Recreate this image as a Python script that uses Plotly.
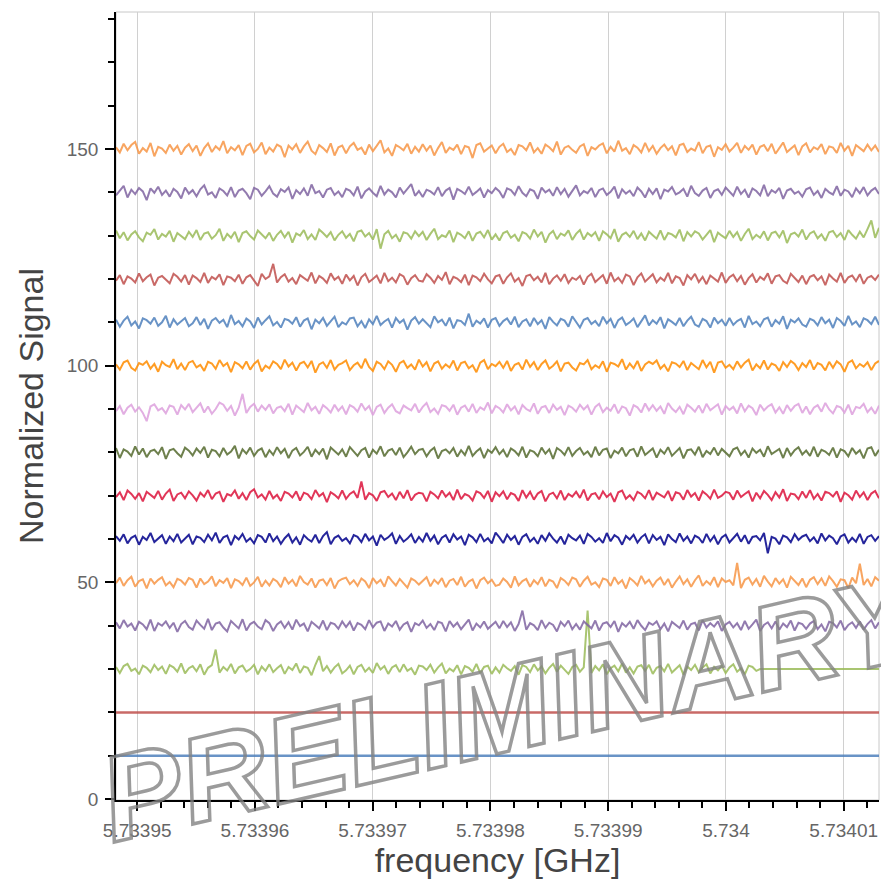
import numpy as np
import plotly.graph_objects as go

# ---------------- data ----------------
freq_start = 5.7339482   # GHz, first sample
freq_stop = 5.7340130    # GHz, last sample

offsets = [10, 20, 30, 40, 50, 60, 70, 80, 90, 100, 110, 120, 130, 140, 150]

# flat traces
sig_010 = [10.0, 10.0]
sig_020 = [20.0, 20.0]

# deviations from each offset (estimated)
dev_030 = [
    0.5, -0.9, 0.7, 1.2, -0.4, 0.1, -1.2, 0.8, 0.3, -0.7, 1.0, -0.2, 0.6, -1.1, 0.9, 0.4, -0.6, 1.3, -1.0, 0.2,
    0.7, -0.5, 1.1, -1.3, 0.3, 0.9, 4.5, -0.8, 0.5, -0.3, 1.2, -1.0, 0.4, 0.8, -0.6, 0.0, 1.0, -1.2, 0.6, -0.4,
    1.1, -0.7, 0.2, 0.9, -1.1, 0.5, -0.2, 1.3, -0.9, 0.6, 0.3, -1.4, 1.0, 3.0, -0.5, 0.7, -0.8, 0.4, 1.2, -1.0,
    -0.3, 0.8, -1.2, 0.5, 1.0, -0.6, 0.3, -0.9, 1.4, -0.1, 0.7, -1.1, 0.4, 0.9, -0.7, 1.1, -0.4, 0.2, -1.3, 0.8,
    0.6, -0.2, 1.0, -0.8, 0.4, 1.3, -1.0, 0.1, -0.5, 0.9, -1.2, 0.7, 0.3, -0.6, 1.2, -0.9, 0.5, 0.8, -1.1, 0.4,
    -0.8, 1.0, 0.2, -0.4, 0.7, -1.3, 0.9, 0.5, -0.7, 1.1, -0.3, 0.6, -1.0, 0.3, 1.2, -0.6, 0.8, -0.2, -1.1, 0.5,
    1.0, -0.6, 0.4, 13.5, -0.9, 0.7, -0.3, 1.1, -1.2, 0.2, 0.8, -0.5, 1.3, -0.8, 0.4, -1.0, 0.6, 0.9, -0.4, 1.0,
    -1.1, 0.3, 0.7, -0.5, 1.2, -0.8, 0.1, 0.9, -1.3, 0.6, -0.2, 1.0, -0.7, 0.4, 1.1, -1.0, 0.5, -0.3, 0.8, -0.9,
    0.4, 1.1, -0.6, 0.2, -1.2, 0.8, 0.5, -0.4, 0.0, 0.0, 0.0, 0.0, 0.0, 0.0, 0.0, 0.0, 0.0, 0.0, 0.0, 0.0,
    0.0, 0.0, 0.0, 0.0, 0.0, 0.0, 0.0, 0.0, 0.0, 0.0, 0.0, 0.0, 0.0, 0.0, 0.0, 0.0, 0.0, 0.0, 0.0, 0.0,
]
dev_040 = [
    0.8, -0.6, 1.3, -0.2, 0.5, -1.1, 0.9, 0.3, -0.8, 1.4, -1.2, 0.6, 0.0, 1.0, -0.5, 0.7, -1.4, 0.4, 1.1, -0.3,
    -0.9, 1.2, 0.2, -0.7, 1.6, -1.0, 0.5, 0.8, -0.4, -1.3, 1.1, 0.3, -0.6, 1.5, -1.1, 0.4, 0.9, -0.2, -0.8, 1.3,
    0.6, -1.2, 0.3, 1.0, -0.5, 0.8, -0.9, 1.4, -0.1, 0.5, -1.3, 0.9, 0.2, -0.6, 1.2, -1.0, 0.7, 0.4, -0.7, 1.0,
    -0.3, 0.9, -1.1, 0.6, 0.2, -0.8, 1.3, -0.4, 0.7, 1.0, -1.2, 0.5, -0.2, 1.1, -0.9, 0.3, 0.8, -1.4, 0.6, 0.1,
    1.2, -0.5, 0.4, -1.0, 0.9, 0.6, -1.3, 1.1, -0.2, 0.7, -0.8, 0.3, 1.4, -1.1, 0.5, -0.4, 1.0, -0.7, 0.2, 0.9,
    -0.6, 1.1, -0.3, 0.8, -1.2, 0.4, 3.5, -0.9, 0.6, 0.1, -1.0, 1.3, -0.5, 0.7, 0.2, -1.3, 0.9, -0.1, 1.2, -0.8,
    0.4, -0.9, 1.0, 0.3, -0.6, 1.2, -1.1, 0.5, 0.8, -0.3, 1.1, -1.4, 0.6, -0.2, 0.9, -0.7, 1.3, 0.0, -1.0, 0.7,
    0.2, 1.0, -0.8, 0.5, -1.3, 0.9, 0.1, -0.5, 1.2, -0.9, 0.4, 0.7, -1.1, 1.3, -0.4, 0.6, -0.2, 1.0, -1.2, 0.3,
    0.9, -0.4, 0.6, -1.0, 1.1, -0.7, 0.3, 1.4, -1.2, 0.2, 0.8, -0.6, 1.0, -0.9, 0.5, -0.3, 1.2, -1.1, 0.7, 0.4,
    -0.7, 0.5, 1.1, -0.8, 0.3, -1.3, 0.9, 0.6, -0.4, 1.2, -1.0, 0.2, 0.8, -0.5, 1.0, -0.9, 0.4, 1.3, -0.6, 0.8,
]
dev_050 = [
    -0.2, 1.1, -0.8, 0.5, 1.3, -1.0, 0.3, 0.7, -1.4, 0.9, -0.3, 0.6, 1.2, -0.7, 0.1, -1.1, 0.8, 0.4, -0.5, 1.0,
    0.6, -1.2, 0.9, -0.4, 0.2, 1.4, -0.9, 0.5, -0.1, 1.0, -1.3, 0.7, 0.3, -0.6, 1.1, -0.8, 0.0, 1.3, -1.0, 0.4,
    -0.7, 0.8, 0.2, -1.1, 1.2, -0.3, 0.6, -0.9, 1.5, 0.1, -0.5, 0.9, -1.2, 0.4, 0.7, -0.6, 1.0, -1.4, 0.3, 0.8,
    1.1, -0.4, 0.5, -0.8, 0.9, 0.2, -1.3, 1.0, -0.2, 0.6, -1.0, 1.4, 0.3, -0.7, 0.8, -0.1, -1.2, 0.9, 0.4, -0.5,
    0.3, 1.2, -0.9, 0.6, -0.3, 1.0, -1.1, 0.4, 0.8, -0.6, 1.3, -1.0, 0.2, 0.7, -1.4, 0.5, 1.1, -0.2, 0.6, -0.8,
    -0.5, 0.9, 0.1, -1.2, 1.4, -0.7, 0.3, 0.8, -1.0, 0.5, -0.4, 1.2, -0.9, 0.6, 0.2, -1.3, 1.0, 0.4, -0.6, 1.1,
    0.7, -1.0, 0.4, 1.3, -0.5, 0.0, -1.1, 0.9, 0.6, -0.8, 1.2, -0.3, 0.5, -1.4, 1.0, 0.3, -0.7, 1.5, -0.2, 0.6,
    -0.9, 0.4, 1.1, -0.6, 0.8, -1.2, 0.2, 1.4, -0.4, 0.7, -1.0, 0.5, 1.6, -0.8, 0.3, -0.5, 1.2, -1.1, 0.9, 0.1,
    0.5, -0.7, 4.5, -1.3, 0.6, 1.1, -0.5, 0.8, -1.0, 1.5, 0.2, -0.9, 1.0, -0.3, 0.7, -1.2, 1.3, 0.4, -0.6, 0.9,
    -1.1, 0.6, 1.2, -0.4, 0.9, -0.8, 1.4, 0.3, -1.0, 0.7, 0.5, -1.3, 1.1, -0.2, 4.3, -0.6, 0.8, -0.9, 1.2, 0.4,
]
dev_060 = [
    0.7, -0.4, 1.1, -1.0, 0.3, 0.8, -1.3, 0.5, -0.2, 1.4, -0.7, 0.2, 0.9, -1.1, 0.6, -0.5, 1.2, -0.8, 0.1, 1.0,
    -1.2, 0.6, 0.3, -0.7, 1.0, -0.3, 1.5, -0.9, 0.4, 0.8, -1.4, 0.7, -0.1, 1.2, -0.6, 0.2, -1.0, 0.9, 0.5, -0.8,
    1.3, -0.5, 0.6, -1.1, 0.2, 1.1, -0.8, 0.4, -1.3, 0.9, 0.0, -0.6, 1.0, -0.9, 0.7, 1.6, -1.2, 0.3, 0.8, -0.4,
    0.2, -1.0, 0.9, 0.5, -0.7, 1.2, -0.3, 0.6, -1.5, 1.0, -0.2, 0.4, 1.3, -1.1, 0.7, -0.6, 0.1, 1.1, -0.9, 0.5,
    -0.6, 1.4, -0.4, 0.8, -1.2, 0.3, 0.9, -0.8, 1.1, -0.1, 0.6, -1.4, 1.0, 0.4, -0.7, 1.2, -0.5, 0.2, -1.0, 1.5,
    0.4, -0.9, 1.0, -0.2, 0.7, -1.3, 0.5, 1.1, -0.6, 0.3, -1.1, 0.9, -0.4, 1.3, 0.1, -0.8, 0.6, -1.2, 1.0, 0.2,
    -0.3, 0.8, -1.1, 1.2, 0.5, -0.6, 0.2, -0.9, 1.4, -0.5, 0.9, 0.3, -1.3, 0.7, -0.1, 1.0, -0.8, 0.4, 1.1, -1.0,
    0.9, -0.2, 0.5, -1.4, 1.1, 0.0, -0.7, 1.3, -0.4, 0.6, -1.0, 0.8, 0.3, -0.9, 1.2, -0.5, 0.7, -1.2, 0.4, 1.0,
    -0.8, 0.3, 1.2, -0.6, 0.9, -1.1, 0.5, 0.7, -0.3, 1.4, -3.3, 0.5, 0.1, -1.2, 0.8, 0.4, -0.7, 1.1, -0.2, 0.6,
    1.0, -0.5, 0.4, -1.0, 1.3, -0.3, 0.8, 0.2, -1.2, 0.6, 1.1, -0.8, 0.3, -0.6, 1.2, -1.1, 0.5, 0.9, -0.4, 0.7,
]
dev_070 = [
    -0.3, 0.8, -1.0, 1.2, 0.4, -0.7, 0.6, -1.3, 0.9, 0.2, -0.5, 1.1, -0.9, 0.5, 1.4, -1.2, 0.3, 0.7, -0.6, 1.0,
    0.1, -1.1, 0.7, -0.2, 1.3, -0.8, 0.5, 0.9, -1.4, 0.4, 0.0, 1.2, -0.7, 0.6, -1.0, 0.8, 1.5, -0.4, 0.3, -0.9,
    1.1, -0.6, 0.2, -1.2, 0.9, 0.5, -0.4, 1.0, -1.1, 0.7, 0.3, -0.8, 1.3, -0.1, 0.6, -1.5, 0.8, 0.2, -0.6, 1.2,
    -0.7, 0.4, 1.0, -0.5, 3.3, -0.9, 0.6, 0.1, -1.2, 0.8, 1.1, -0.3, 0.5, -1.0, 0.9, -0.6, 1.3, -1.1, 0.2, 0.7,
    0.5, -1.3, 0.9, 0.3, -0.6, 1.2, -0.2, 0.7, -1.0, 1.4, -0.8, 0.4, 0.0, -1.1, 1.0, 0.6, -0.5, 1.1, -1.4, 0.8,
    -0.1, 1.0, -0.8, 0.6, 0.2, -1.2, 1.3, -0.4, 0.9, -0.9, 0.5, 1.1, -1.3, 0.3, 0.7, -0.6, 1.2, -1.0, 0.4, -0.2,
    0.9, -0.5, 1.4, -1.1, 0.3, 0.6, -0.8, 1.0, -0.3, 0.5, -1.4, 0.8, 1.2, -0.7, 0.1, -1.0, 0.9, 0.4, -0.6, 1.3,
    -1.0, 0.7, 0.2, -0.4, 1.1, -1.2, 0.8, 0.5, -0.9, 1.3, -0.2, 0.6, -1.1, 1.0, 0.3, -0.7, 1.4, -0.5, 0.0, 0.9,
    0.6, -0.9, 1.2, -0.3, 0.4, 1.0, -1.3, 0.7, -0.6, 1.1, 0.2, -1.0, 0.8, -0.4, 1.5, -1.2, 0.5, 0.3, -0.8, 1.0,
    -0.5, 1.3, -0.7, 0.4, -1.1, 0.9, 0.6, -0.2, 1.0, -1.4, 0.7, 0.1, -0.9, 1.2, -0.3, 0.8, -1.0, 0.5, 1.1, -0.6,
]
dev_080 = [
    1.0, -1.3, 0.7, 0.2, -0.8, 1.4, -0.5, 0.9, -1.1, 0.3, 0.6, -0.4, 1.2, -1.5, 0.5, 0.8, -0.2, -1.0, 1.1, 0.4,
    -0.7, 0.9, -0.1, 1.3, -1.2, 0.6, 0.3, -0.9, 1.0, -0.5, 0.2, 1.5, -1.4, 0.7, -0.3, 1.1, -0.8, 0.4, 0.9, -1.1,
    0.5, -0.6, 1.2, -0.2, 0.8, -1.3, 0.4, 1.0, -0.7, 0.1, 1.3, -1.0, 0.6, -0.4, 0.9, -1.6, 1.1, 0.3, -0.5, 0.7,
    -1.0, 1.2, 0.2, -0.8, 0.5, 1.0, -1.2, 0.6, -0.3, 1.4, -0.9, 0.4, 0.8, -0.6, 1.1, -1.1, 0.0, 1.3, -0.4, 0.6,
    0.8, -0.9, 0.4, 1.1, -1.4, 0.3, 0.7, -0.2, 1.0, -1.0, 0.5, -0.6, 1.5, -0.8, 0.2, 0.9, -1.3, 0.6, -0.1, 1.2,
    -0.4, 0.6, -1.1, 0.9, 0.3, -0.7, 1.3, -1.2, 0.5, 0.1, -0.9, 1.1, -0.3, 0.7, -1.5, 1.0, 0.4, -0.6, 1.2, -0.8,
    0.3, 1.0, -0.5, 0.2, -1.1, 1.3, -0.7, 0.6, 0.9, -1.3, 0.4, -0.2, 1.1, -0.9, 0.5, 0.8, -1.0, 1.4, -0.6, 0.1,
    0.9, -1.2, 0.6, -0.3, 1.2, -0.8, 0.2, 1.0, -1.4, 0.5, 0.7, -0.5, 1.3, -1.1, 0.3, -0.4, 1.1, -0.7, 0.8, 0.0,
    -0.9, 0.7, 1.1, -0.6, 0.4, -1.2, 0.9, -0.1, 0.6, -1.0, 1.4, -0.4, 0.2, 0.8, -1.3, 1.0, -0.7, 0.5, 1.2, -0.5,
    0.4, -0.8, 1.3, -1.0, 0.6, 0.2, -0.6, 1.1, -1.2, 0.7, 0.3, -0.9, 1.0, -0.3, 0.5, -1.4, 0.9, 1.2, -0.8, 0.6,
]
dev_090 = [
    -0.5, 0.7, -1.2, 0.3, 1.0, -0.6, 0.4, -0.9, -2.8, 0.6, 1.1, -0.3, 0.2, -1.0, 0.8, 0.5, -1.3, 0.9, -0.1, 1.2,
    -0.7, 0.4, 1.3, -0.8, 0.6, -1.1, 0.0, 1.5, 1.0, -0.4, 0.7, -1.5, 0.3, 3.5, -0.9, 0.5, 1.2, -0.6, 0.8, -0.2,
    1.1, -1.0, 0.3, 0.6, -0.5, 1.2, -1.3, 0.8, 0.1, -0.7, 1.4, -0.3, 0.5, -1.1, 0.9, 0.2, -0.8, 1.0, -0.4, 0.6,
    -1.2, 0.9, 0.4, -0.6, 1.3, -0.2, 0.7, -1.4, 0.5, 1.0, -0.9, 0.3, 1.1, -0.5, -1.0, 0.8, 0.2, -0.3, 1.2, -0.8,
    0.5, 1.4, -0.7, 0.1, -1.1, 0.9, 0.6, -0.4, 1.0, -1.3, 0.3, 0.8, -0.6, 1.2, -0.9, 0.4, -0.2, 1.5, -1.0, 0.7,
    0.2, -0.8, 1.1, -0.3, 0.6, -1.2, 0.9, 0.0, -0.5, 1.3, -1.1, 0.4, 0.7, -0.9, 1.0, -0.2, 0.5, -1.4, 0.8, 0.3,
    -0.6, 1.0, -0.1, 0.8, -1.3, 0.5, 1.2, -0.7, 0.3, -0.4, 1.1, -1.0, 0.6, 0.2, -1.5, 0.9, 0.4, -0.8, 1.3, -0.3,
    0.9, -0.4, 0.6, -1.1, 1.4, 0.1, -0.7, 0.5, -1.2, 1.0, 0.3, -0.6, 0.8, -0.9, 1.2, -0.3, 0.4, 1.1, -1.3, 0.7,
    -0.2, 0.5, -1.0, 1.3, -0.5, 0.8, 0.2, -1.4, 1.0, -0.3, 0.6, 1.1, -0.8, 0.4, -1.1, 0.9, -0.4, 0.7, 1.2, -0.9,
    0.6, -1.2, 0.3, 0.9, -0.6, 1.4, -0.1, -1.0, 0.7, 0.4, -0.8, 1.0, -1.3, 0.5, 0.2, 1.2, -0.7, 0.3, -1.1, 0.8,
]
dev_100 = [
    0.3, -0.9, 0.8, 1.2, -0.5, -1.1, 0.6, 0.2, 1.0, -0.7, 0.4, -1.4, 0.9, 0.1, -0.3, 1.5, -0.8, 0.5, -1.0, 0.7,
    1.1, -0.4, 0.2, -1.2, 0.9, 0.5, -0.7, 1.3, -0.1, 0.6, -1.5, 0.8, 0.3, -0.6, 1.0, -0.9, 0.4, 1.2, -1.3, 0.0,
    -0.6, 1.0, 0.4, -0.8, 1.4, -0.2, 0.7, -1.1, 0.5, 0.9, -0.4, 1.1, -1.6, 0.3, 0.8, -0.5, 1.3, -0.9, 0.2, 0.6,
    1.2, -1.0, 0.1, 0.7, -0.6, 1.6, -0.3, -1.2, 0.9, 0.4, -0.8, 1.0, 0.2, -1.4, 0.6, 1.1, -0.5, 0.3, -0.9, 1.4,
    -0.2, 0.8, -1.3, 0.5, 1.0, -0.7, 0.3, -0.4, 1.2, -1.1, 0.6, 0.9, -0.6, 0.1, -1.5, 0.7, 1.3, -0.8, 0.4, -0.1,
    0.9, -0.5, 1.1, -1.2, 0.2, 0.6, -0.9, 1.4, -0.3, 0.8, -1.0, 0.4, 1.2, -0.7, 0.0, 1.0, -1.3, 0.5, 0.7, -0.4,
    -1.1, 0.6, 0.3, 1.3, -0.8, 0.1, -0.5, 1.0, -1.4, 0.7, 0.4, -0.2, 1.5, -0.9, 0.5, -0.6, 1.1, -1.2, 0.3, 0.9,
    0.4, 1.2, -0.7, 0.2, -1.3, 0.8, 0.5, -0.3, 1.1, -1.0, 0.6, 0.0, -0.8, 1.3, -0.4, 0.9, -1.6, 0.7, 1.0, -0.5,
    0.2, -0.8, 1.0, -0.4, 0.7, 1.4, -1.1, 0.3, -0.6, 1.2, -0.9, 0.5, 0.1, -1.2, 0.8, -0.3, 1.1, 0.4, -1.0, 0.6,
    -0.3, 1.3, -0.9, 0.6, 0.2, -1.1, 0.9, -0.5, 1.0, 0.3, -1.4, 0.7, 1.2, -0.6, 0.4, -0.2, 0.8, -1.0, 0.5, 1.1,
]
dev_110 = [
    0.6, -1.0, 0.4, 1.3, -0.7, 0.2, -1.4, 0.9, 0.5, -0.3, 1.1, -0.8, 0.0, 1.5, -1.2, 0.7, -0.5, 0.3, 1.0, -0.9,
    -0.2, 1.2, -0.6, 0.8, -1.5, 0.4, 1.0, -0.1, 0.6, -1.1, 1.7, -0.4, 0.3, -0.9, 0.9, 0.2, -1.3, 1.1, -0.5, 0.5,
    1.4, -0.7, 0.1, -1.2, 0.8, 0.5, -0.3, 1.2, -1.0, 0.4, 0.9, -1.6, 0.6, -0.2, 1.0, -0.8, 0.3, 1.3, -1.1, 0.0,
    -0.5, 0.9, 1.1, -0.9, 0.3, -1.3, 0.7, -0.4, 1.5, -0.6, 0.2, 0.8, -1.2, 1.0, -0.1, 0.6, -1.7, 0.4, 1.2, -0.3,
    0.7, -0.2, -1.1, 1.4, 0.0, 0.6, -0.8, 1.1, -1.4, 0.5, 0.3, -0.6, 2.0, -1.0, 0.4, -0.3, 0.9, -1.2, 0.6, 1.0,
    -0.8, 0.3, 0.9, -0.5, 1.3, -1.1, 0.2, 0.7, -0.9, 1.0, -0.4, 0.5, -1.5, 1.2, 0.1, -0.7, 0.8, 0.4, -1.0, 1.4,
    0.2, -1.2, 0.6, 1.0, -0.4, 0.3, -0.9, 1.3, -0.2, 0.8, -1.3, 0.5, 1.1, -0.6, 0.0, 0.9, -1.1, 0.4, 1.6, -0.7,
    0.5, -0.3, 1.2, -1.4, 0.7, 0.1, -0.6, 1.0, -0.9, 0.4, 1.3, -0.5, -1.0, 0.8, 0.3, -1.2, 1.1, -0.2, 0.6, -0.8,
    1.0, -0.6, 0.3, 0.8, -1.2, 1.5, -0.4, 0.2, -0.9, 0.7, 1.1, -1.0, 0.5, -0.3, 1.4, -1.5, 0.6, 0.0, 0.9, -0.5,
    -1.0, 0.8, 0.4, -0.7, 1.2, -0.2, 0.6, -1.3, 1.0, 0.3, -0.8, 1.5, -0.5, 0.2, -1.1, 0.9, 0.5, -0.4, 1.3, -0.6,
]
dev_120 = [
    -0.4, 0.9, -1.2, 0.6, 0.1, -0.8, 1.3, -0.5, 0.4, 1.0, -1.5, 0.3, 0.7, -0.2, -1.0, 1.2, 0.5, -0.6, 0.9, -1.3,
    0.8, 0.2, -0.7, 1.4, -0.9, 0.5, -0.1, 1.1, -1.4, 0.6, 0.3, -0.5, 1.0, -1.1, 0.4, 0.9, -0.3, -1.6, 1.2, 0.0,
    0.6, 3.5, -0.8, 0.4, 1.1, -0.6, 0.2, -1.2, 0.9, 0.3, -0.4, 1.5, -1.0, 0.7, 0.1, -0.9, 1.3, -0.2, 0.5, -1.1,
    1.0, -0.3, 0.7, -1.5, 0.4, 1.2, -0.7, 0.0, 0.8, -1.0, 1.4, -0.5, 0.3, -0.8, 1.1, 0.6, -1.3, 0.2, 0.9, -0.4,
    -0.6, 1.1, 0.3, -0.9, 0.7, -0.2, 1.6, -1.2, 0.5, 0.1, -0.7, 1.0, -1.4, 0.8, 0.4, -0.5, 1.2, -0.1, -1.0, 0.6,
    0.9, -1.1, 0.4, 1.3, -0.6, 0.2, -1.6, 0.7, 1.0, -0.3, 0.5, -0.8, 1.4, -1.2, 0.1, 0.8, -0.4, 1.1, -0.9, 0.3,
    -0.2, 0.7, -1.3, 0.5, 1.2, -0.7, 0.0, 0.9, -1.1, 1.5, -0.5, 0.3, -0.9, 1.0, 0.6, -1.4, 0.4, 1.3, -0.6, 0.2,
    1.1, -0.8, 0.3, -0.4, 1.4, -1.0, 0.6, 0.2, -1.5, 0.9, -0.1, 1.2, -0.7, 0.5, -1.2, 0.8, 0.0, -0.6, 1.5, -0.9,
    0.4, 1.0, -0.5, 0.7, -1.3, 0.2, 1.1, -0.8, 0.5, -0.2, 1.3, -1.1, 0.6, 0.9, -0.4, -1.0, 1.2, 0.3, -0.7, 0.8,
    -1.2, 0.5, 0.9, -0.3, 0.6, -1.4, 1.0, 0.1, -0.6, 1.4, -0.9, 0.4, 0.8, -0.5, 1.1, -1.1, 0.3, 0.7, -0.2, 1.0,
]
dev_130 = [
    1.2, -0.6, 0.8, -1.1, 0.3, 1.0, -0.4, -1.3, 0.7, 0.2, 1.5, -0.9, 0.4, -0.2, 1.1, -1.4, 0.6, 0.0, -0.8, 0.9,
    -0.3, 1.3, -1.0, 0.5, 0.8, -0.7, 0.1, 1.6, -1.2, 0.4, -0.5, 0.9, -1.5, 0.6, 1.0, -0.1, -0.9, 1.2, 0.3, -0.6,
    0.7, -1.2, 0.2, 1.1, -0.4, 0.9, -1.6, 0.5, 0.0, 1.3, -0.8, 0.3, -1.0, 1.4, 0.6, -0.3, 0.8, -1.1, 0.2, 1.0,
    -0.5, 0.4, -1.3, 0.9, 1.2, -0.2, 0.6, -0.9, 1.5, -3.0, 0.3, 1.1, -0.6, 0.2, -1.4, 0.8, 0.5, -0.7, 1.0, -0.1,
    0.9, -1.0, 0.4, 1.6, -0.8, 0.1, -0.3, 1.2, -1.5, 0.7, 0.2, -0.6, 1.0, -1.2, 0.5, 0.9, -0.4, 1.3, -0.9, 0.3,
    -1.1, 0.6, 1.0, -0.5, 0.2, -1.3, 0.8, 0.4, -0.7, 1.4, -0.2, 0.9, -1.6, 0.3, 1.1, -0.8, 0.5, 0.0, 1.2, -1.0,
    0.4, 1.3, -0.9, 0.6, -0.1, 0.8, -1.2, 1.0, 0.3, -0.6, 1.5, -1.4, 0.2, 0.7, -0.3, 1.1, -0.8, 0.5, -1.1, 0.9,
    0.1, -0.7, 1.2, -1.0, 0.6, 0.3, -0.4, 1.4, -1.3, 0.8, -0.2, 1.0, 0.5, -0.9, 0.2, 1.3, -1.5, 0.7, 0.0, -0.6,
    1.1, -0.3, 0.8, -1.2, 0.4, 1.6, -0.8, 0.2, -0.5, 1.0, -1.1, 0.6, 0.9, -0.4, 1.2, -1.7, 0.3, 0.7, -0.2, 1.4,
    -0.9, 0.5, 1.0, -0.6, 0.3, -1.2, 0.8, 1.1, -0.3, 0.6, -1.0, 1.3, 0.2, -0.7, 0.9, -0.4, 1.5, 3.5, -0.5, 1.8,
]
dev_140 = [
    -0.7, 0.3, 1.5, -1.2, 0.6, -0.4, 1.0, 0.2, -1.8, 0.9, -0.1, 1.3, -0.6, 0.4, -1.0, 0.8, 0.1, -1.4, 1.1, -0.3,
    0.5, -0.9, 0.7, 1.6, -0.5, 0.0, -1.3, 0.9, 0.3, -0.7, 1.2, -1.1, 0.4, 0.8, -0.2, -1.6, 1.0, 0.6, -0.8, 0.2,
    1.4, -0.3, -1.0, 0.7, 0.1, 1.1, -1.5, 0.5, -0.4, 0.9, -0.8, 1.8, -0.2, 0.3, -1.2, 0.6, 1.0, -0.6, 0.2, -1.1,
    0.8, 0.4, -0.7, 1.3, -1.4, 0.2, 0.9, -0.1, -0.9, 1.5, -0.5, 0.6, 0.0, -1.2, 1.1, -0.3, 0.7, 1.9, -0.8, 0.3,
    -1.1, 0.6, 0.2, -0.5, 1.2, -0.9, 0.4, 1.0, -1.7, 0.8, 0.3, -0.4, 1.3, -0.6, 0.1, 0.9, -1.2, 0.5, -0.2, 1.0,
    0.2, -1.3, 0.9, 0.5, -0.6, 1.4, -0.1, -0.9, 0.7, 0.3, -1.5, 1.1, 0.0, 0.6, -0.8, 1.2, -0.4, 0.8, -1.0, 0.4,
    1.6, -0.7, 0.3, -0.2, 1.0, -1.1, 0.5, 0.9, -0.6, 0.1, 1.3, -1.4, 0.7, -0.3, 0.4, -0.9, 1.1, 0.2, -1.2, 0.8,
    -0.4, 0.9, -1.6, 0.6, 0.2, 1.2, -0.5, 0.0, 0.8, -1.0, 1.5, -0.2, -0.8, 0.4, 1.0, -1.3, 0.3, 0.7, -0.6, 1.1,
    0.1, -0.8, 1.3, -0.4, 0.6, -1.2, 0.9, 0.3, -0.7, 1.7, -0.9, 0.5, -0.1, 1.0, -1.5, 0.4, 0.8, -0.3, 0.2, -1.0,
    0.7, 1.1, -0.6, 0.3, -1.3, 0.8, 0.0, -0.5, 1.4, -0.8, 0.6, 0.2, -1.1, 0.9, -0.2, 1.2, -0.7, 0.4, 1.0, -0.4,
]
dev_150 = [
    0.4, -0.8, 1.2, -0.3, 0.9, 1.6, -1.1, 0.2, -0.6, 1.4, -1.7, 0.5, 0.1, -0.9, 1.0, -0.4, 0.7, -1.3, 0.3, 1.1,
    -0.5, 0.8, -1.6, 0.2, 1.3, -0.7, 0.6, -0.2, 1.8, -1.0, 0.4, -0.3, 0.9, -1.4, 0.7, 1.2, -0.8, 0.0, 1.5, -1.2,
    0.3, -0.6, 1.0, 0.5, -1.9, 0.8, -0.1, 1.1, -0.9, 0.6, 1.7, -0.4, -1.2, 0.9, 0.2, -0.7, 1.3, -1.5, 0.4, 0.8,
    -1.0, 0.6, 1.4, -0.2, 0.3, -1.3, 1.0, -0.5, 0.7, 2.0, -0.8, 0.1, -1.6, 0.9, 0.4, -0.3, 1.2, -1.1, 0.5, -0.6,
    1.1, -0.4, 0.8, -1.5, 0.2, 1.6, -0.9, 0.3, -0.2, 1.0, -1.2, 0.7, 0.4, -2.1, 0.9, 1.3, -0.6, 0.1, 0.8, -1.0,
    0.5, 1.2, -0.7, 0.0, -1.4, 0.9, 0.6, -0.3, 1.5, -0.8, 0.2, -1.1, 1.0, 0.4, -0.5, 1.7, -1.3, 0.3, 0.7, -0.2,
    -0.9, 0.6, 1.1, -1.6, 0.4, -0.1, 0.8, 1.3, -1.0, 0.5, -0.6, 1.9, -0.4, 0.2, -1.2, 0.9, 0.3, -0.8, 1.4, -0.5,
    0.7, -1.1, 0.2, 1.0, -0.3, 0.6, -1.5, 0.9, 1.2, -0.7, 0.1, -0.4, 1.6, -1.0, 0.5, 0.8, -1.8, 0.4, -0.2, 1.1,
    -0.6, 0.3, 1.4, -0.9, 0.7, -0.2, 1.0, -1.3, 0.5, 0.9, -0.5, 1.2, -1.1, 0.2, 1.5, -0.7, 0.0, 0.8, -1.4, 0.6,
    1.3, -0.8, 0.4, -0.1, 1.1, -1.2, 0.6, 0.3, -0.9, 1.4, -0.4, 0.7, -1.6, 0.9, 0.2, -0.5, 1.0, -0.3, 0.8, -0.7,
]

colors = ["#4f81bd", "#c0504d", "#9bbb59", "#8064a2", "#f79646",
          "#00008b", "#dc143c", "#556b2f", "#dda0dd", "#ff8c00",
          "#4f81bd", "#c0504d", "#9bbb59", "#8064a2", "#f79646"]

xtick_vals = [5.73395, 5.73396, 5.73397, 5.73398, 5.73399, 5.73400, 5.73401]
xtick_text = ["5.73395", "5.73396", "5.73397", "5.73398", "5.73399", "5.734", "5.73401"]
ytick_vals = [0, 50, 100, 150]
ytick_text = ["0", "50", "100", "150"]

x_title = "frequency [GHz]"
y_title = "Normalized Signal"
watermark = "PRELIMINARY"

# ---------------- figure ----------------
fig = go.Figure()

flat = {10: sig_010, 20: sig_020}
devs = {30: dev_030, 40: dev_040, 50: dev_050, 60: dev_060, 70: dev_070,
        80: dev_080, 90: dev_090, 100: dev_100, 110: dev_110, 120: dev_120,
        130: dev_130, 140: dev_140, 150: dev_150}

for off, col in zip(offsets, colors):
    if off in flat:
        y = np.array(flat[off])
        lw = 2.6
    else:
        y = off + np.array(devs[off])
        lw = 2.0
    x = np.linspace(freq_start, freq_stop, len(y))
    fig.add_trace(go.Scatter(x=x, y=y, mode="lines",
                             line=dict(color=col, width=lw),
                             opacity=0.85, showlegend=False,
                             hoverinfo="skip"))

FONT = "Arial, 'Liberation Sans', Helvetica, sans-serif"

fig.update_layout(
    width=881, height=883,
    margin=dict(l=116, r=2, t=12, b=83),
    paper_bgcolor="white", plot_bgcolor="white",
    showlegend=False,
    font=dict(family=FONT),
    shapes=[dict(type="rect", xref="paper", yref="paper", x0=0, x1=1, y0=0, y1=1,
                 line=dict(color="#c8c8c8", width=1), layer="below")],
    annotations=[dict(text=watermark, xref="paper", yref="paper",
                      x=0.52, y=0.118, xanchor="center", yanchor="middle",
                      showarrow=False, textangle=-13,
                      font=dict(family="'Liberation Sans', Arial, sans-serif",
                                size=121, color="rgba(0,0,0,0)",
                                weight=700, style="italic"))],
)

fig.update_xaxes(
    range=[freq_start, freq_stop],
    tickmode="array", tickvals=xtick_vals, ticktext=xtick_text,
    ticks="outside", ticklen=9, tickwidth=1.5, tickcolor="black",
    showline=True, linecolor="black", linewidth=1.5,
    showgrid=True, gridcolor="#d0d0d0", gridwidth=1,
    zeroline=False,
    tickfont=dict(size=19, color="#666666", family=FONT),
    ticklabelstandoff=3,
    minor=dict(tick0=5.73395, dtick=2e-6, ticks="outside", ticklen=6,
               tickwidth=1.5, tickcolor="black", showgrid=False),
    title=dict(text=x_title, font=dict(size=34, color="#444444", family=FONT),
               standoff=4),
)
fig.update_yaxes(
    range=[-0.2, 181.6],
    tickmode="array", tickvals=ytick_vals, ticktext=ytick_text,
    ticks="outside", ticklen=9, tickwidth=1.5, tickcolor="black",
    showline=True, linecolor="black", linewidth=1.5,
    showgrid=False, zeroline=False,
    tickfont=dict(size=19, color="#666666", family=FONT),
    ticklabelstandoff=3,
    minor=dict(tick0=0, dtick=10, ticks="outside", ticklen=6,
               tickwidth=1.5, tickcolor="black", showgrid=False),
    title=dict(text=y_title, font=dict(size=34, color="#444444", family=FONT),
               standoff=13),
)

post = """
var gd = document.getElementById('{plot_id}');
function styleWM(){
  gd.querySelectorAll('.annotation-text').forEach(function(t){
    t.setAttribute('font-weight', 'bold');
    t.style.fill = 'none';
    t.style.stroke = 'rgba(130,130,130,0.8)';
    t.style.strokeWidth = '3.5px';
    t.style.strokeLinejoin = 'miter';
    t.style.fontWeight = '700';
    t.style.fontStyle = 'italic';
  });
}
styleWM();
if (gd.on) { gd.on('plotly_afterplot', styleWM); }
"""

fig.write_html("out.html", post_script=post)
